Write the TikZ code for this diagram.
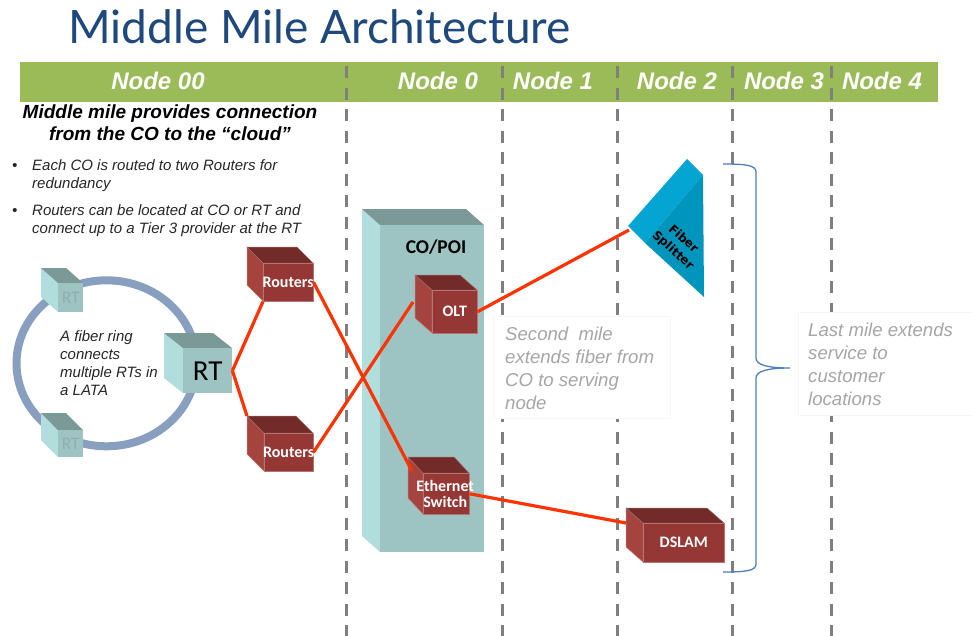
\documentclass[tikz,border=0pt]{standalone}
\usepackage{fontspec}
\setmainfont{Liberation Sans}
\newfontfamily\titlefont{Lato}
\newfontfamily\calfont{Carlito}
\newfontfamily\dvfont{DejaVu Sans}
\usetikzlibrary{calc}
\definecolor{titleblue}{HTML}{1F497D}
\definecolor{bargreen}{HTML}{9BBB59}
\definecolor{dashgray}{HTML}{7F7F7F}
\definecolor{fiberred}{HTML}{FF3300}
\definecolor{ringblue}{HTML}{889FBF}
\definecolor{tealfrontc}{HTML}{9DC3C2}
\definecolor{tealleftc}{HTML}{B1DEDD}
\definecolor{tealtopc}{HTML}{7A9997}
\definecolor{redfrontc}{HTML}{953735}
\definecolor{redleftc}{HTML}{A5433F}
\definecolor{redtopc}{HTML}{722B29}
\definecolor{splittopc}{HTML}{04A5D2}
\definecolor{splitfrontc}{HTML}{0095BD}
\definecolor{notegray}{HTML}{A6A6A6}
\definecolor{braceblue}{HTML}{4F81BD}
\definecolor{fadegray}{HTML}{8DB0AF}
\newcommand{\mycube}[9]{%
  \fill[#8left] (#2,#3) -- (#2-#6,#3-#7) -- (#2-#6,#3+#5-#7) -- (#2,#3+#5) -- cycle;
  \fill[#8top] (#2,#3) -- (#2-#6,#3-#7) -- (#2+#4-#6,#3-#7) -- (#2+#4,#3) -- cycle;
  \node[#8front, anchor=north west, inner sep=0, minimum width=#4pt, minimum height=#5pt, label={#9}] (#1) at (#2,#3) {};
  \coordinate (#1-b) at (#2-#6,#3-#7);
}
\begin{document}
\begin{tikzpicture}[x=1pt,y=-1pt,
  nodehead/.style={font=\fontsize{24}{28}\selectfont\bfseries\itshape, text=white, inner sep=0},
  sepline/.style={draw=dashgray, line width=3pt, dash pattern=on 12pt off 9.5pt},
  notebox/.style={fill=white, draw=black!3, line width=0.6pt},
  graytext/.style={font=\fontsize{18.6}{23}\selectfont\itshape, text=notegray, anchor=base west, inner sep=0},
  headtext/.style={font=\fontsize{19}{22}\selectfont\bfseries\itshape, text=black, anchor=base, inner sep=0},
  bullettext/.style={font=\fontsize{15}{18}\selectfont\itshape, text=black!85, anchor=base west, inner sep=0},
  fiber/.style={draw=fiberred, line width=3.2pt},
  redleft/.style={fill=redleftc, draw=redleftc!70!white, line width=0.5pt},
  redtop/.style={fill=redtopc, draw=redtopc!70!white, line width=0.5pt},
  redfront/.style={fill=redfrontc, draw=redfrontc!70!white, line width=0.5pt},
  tealleft/.style={fill=tealleftc},
  tealtop/.style={fill=tealtopc},
  tealfront/.style={fill=tealfrontc},
  cubelbl/.style={font={\calfont\bfseries\fontsize{16}{16.6}\selectfont}, text=white, inner sep=0, align=center},
  rtlbl/.style={font={\calfont\fontsize{29}{30}\selectfont}, text=black, inner sep=0},
  fadelbl/.style={font={\calfont\fontsize{17.5}{18}\selectfont}, text=fadegray, inner sep=0},
]
\useasboundingbox (0,0) rectangle (972,635);
\fill[white] (0,0) rectangle (972,635);

% title
\node[font={\titlefont\fontsize{46}{50}\selectfont}, text=titleblue, anchor=base west, inner sep=0] (title) at (68,43) {Middle Mile Architecture};

% header bar
\node[fill=bargreen, anchor=north west, inner sep=0, minimum width=918pt, minimum height=40pt] (bar) at (20,62) {};
\node[nodehead] (n00) at (158,81) {Node 00};
\node[nodehead] (n0) at (438,81) {Node 0};
\node[nodehead] (n1) at (553,81) {Node 1};
\node[nodehead] (n2) at (677,81) {Node 2};
\node[nodehead] (n3) at (784,81) {Node 3};
\node[nodehead] (n4) at (882,81) {Node 4};

% separators
\foreach \xx in {346,502,617,732,831} {
  \draw[sepline] (\xx,66) -- (\xx,640);
}

% note boxes
\filldraw[notebox] (493,316) rectangle (670,418);
\filldraw[notebox] (798,312) rectangle (975,415);
\node[graytext] (s1) at (505,340) {Second\ \ mile};
\node[graytext] (s2) at (505,363) {extends fiber from};
\node[graytext] (s3) at (505,386) {CO to serving};
\node[graytext] (s4) at (505,409) {node};
\node[graytext] (l1) at (808,336) {Last mile extends};
\node[graytext] (l2) at (808,359) {service to};
\node[graytext] (l3) at (808,382) {customer};
\node[graytext] (l4) at (808,405) {locations};

% heading and bullets
\node[headtext] (h1) at (170,118) {Middle mile provides connection};
\node[headtext] (h2) at (170,140) {from the CO to the “cloud”};
\node[bullettext] (b1) at (12,170) {•};
\node[bullettext] (b1a) at (32,170) {Each CO is routed to two Routers for};
\node[bullettext] (b1b) at (32,188) {redundancy};
\node[bullettext] (b2) at (12,215) {•};
\node[bullettext] (b2a) at (32,215) {Routers can be located at CO or RT and};
\node[bullettext] (b2b) at (32,233) {connect up to a Tier 3 provider at the RT};

% fiber ring
\draw[ringblue, line width=8pt] (106.5,363.3) ellipse [x radius=90, y radius=83];
\node[bullettext] (f1) at (60,341) {A fiber ring};
\node[bullettext] (f2) at (60,359) {connects};
\node[bullettext] (f3) at (60,377) {multiple RTs in};
\node[bullettext] (f4) at (60,395) {a LATA};

% RT cubes
\mycube{rta}{58}{283}{25}{29}{17}{15}{teal}{[fadelbl]center:RT}
\mycube{rtb}{58}{430}{25}{27}{17}{17}{teal}{[fadelbl]center:RT}
\mycube{rt}{183}{348}{49}{45}{19}{15}{teal}{[rtlbl]center:RT}

% routers
\mycube{r1}{263}{263}{50}{38}{16}{16}{red}{[cubelbl]center:Routers}
\mycube{r2}{264}{433}{49}{38}{17}{17}{red}{[cubelbl]center:Routers}

% CO/POI
\mycube{copoi}{380}{225}{104}{327}{18}{16}{teal}{center:{}}
\node[font={\calfont\bfseries\fontsize{19.5}{20}\selectfont}, text=black, inner sep=0, anchor=base] (copoilbl) at (436,253) {CO/POI};
\mycube{olt}{432}{290}{45}{43}{17}{15}{red}{[cubelbl]center:OLT}
\mycube{es}{423}{473}{46}{41}{15}{16}{red}{[cubelbl, xshift=-1pt]center:{Ethernet\\Switch}}
\mycube{dslam}{643}{523}{81}{39}{17}{15}{red}{[cubelbl]center:DSLAM}

% fiber splitter
\fill[splittopc] (687,159) -- (703,175) -- (645,243) -- (628,226) -- cycle;
\fill[splitfrontc] (703,175) -- (704,297) -- (645,243) -- cycle;
\coordinate (spl) at (629,230);
\node[font={\dvfont\bfseries\fontsize{12}{15.5}\selectfont}, text=black, align=center, rotate=-42, inner sep=0] (splitter) at (678,245) {Fiber\\Splitter};

% brace
\draw[braceblue, line width=1.3pt] (723,164) .. controls (745,164) and (756,165) .. (756,172)
  -- (756,358) .. controls (756,365) and (768,368) .. (790,368)
  .. controls (768,368) and (756,371) .. (756,378)
  -- (756,564) .. controls (756,571) and (745,572) .. (723,572);

% fiber links
\draw[fiber] (rt.east) -- (r1.south west);
\draw[fiber] (rt.east) -- (r2-b);
\draw[fiber] (r1.east) -- ($(es-b)+(4,14)$);
\draw[fiber] (r2.east) -- ($(olt-b)+(-2,27)$);
\draw[fiber] (olt.east) -- (spl);
\draw[fiber] (es.east) -- ($(dslam-b)+(0,15)$);
\end{tikzpicture}
\end{document}
